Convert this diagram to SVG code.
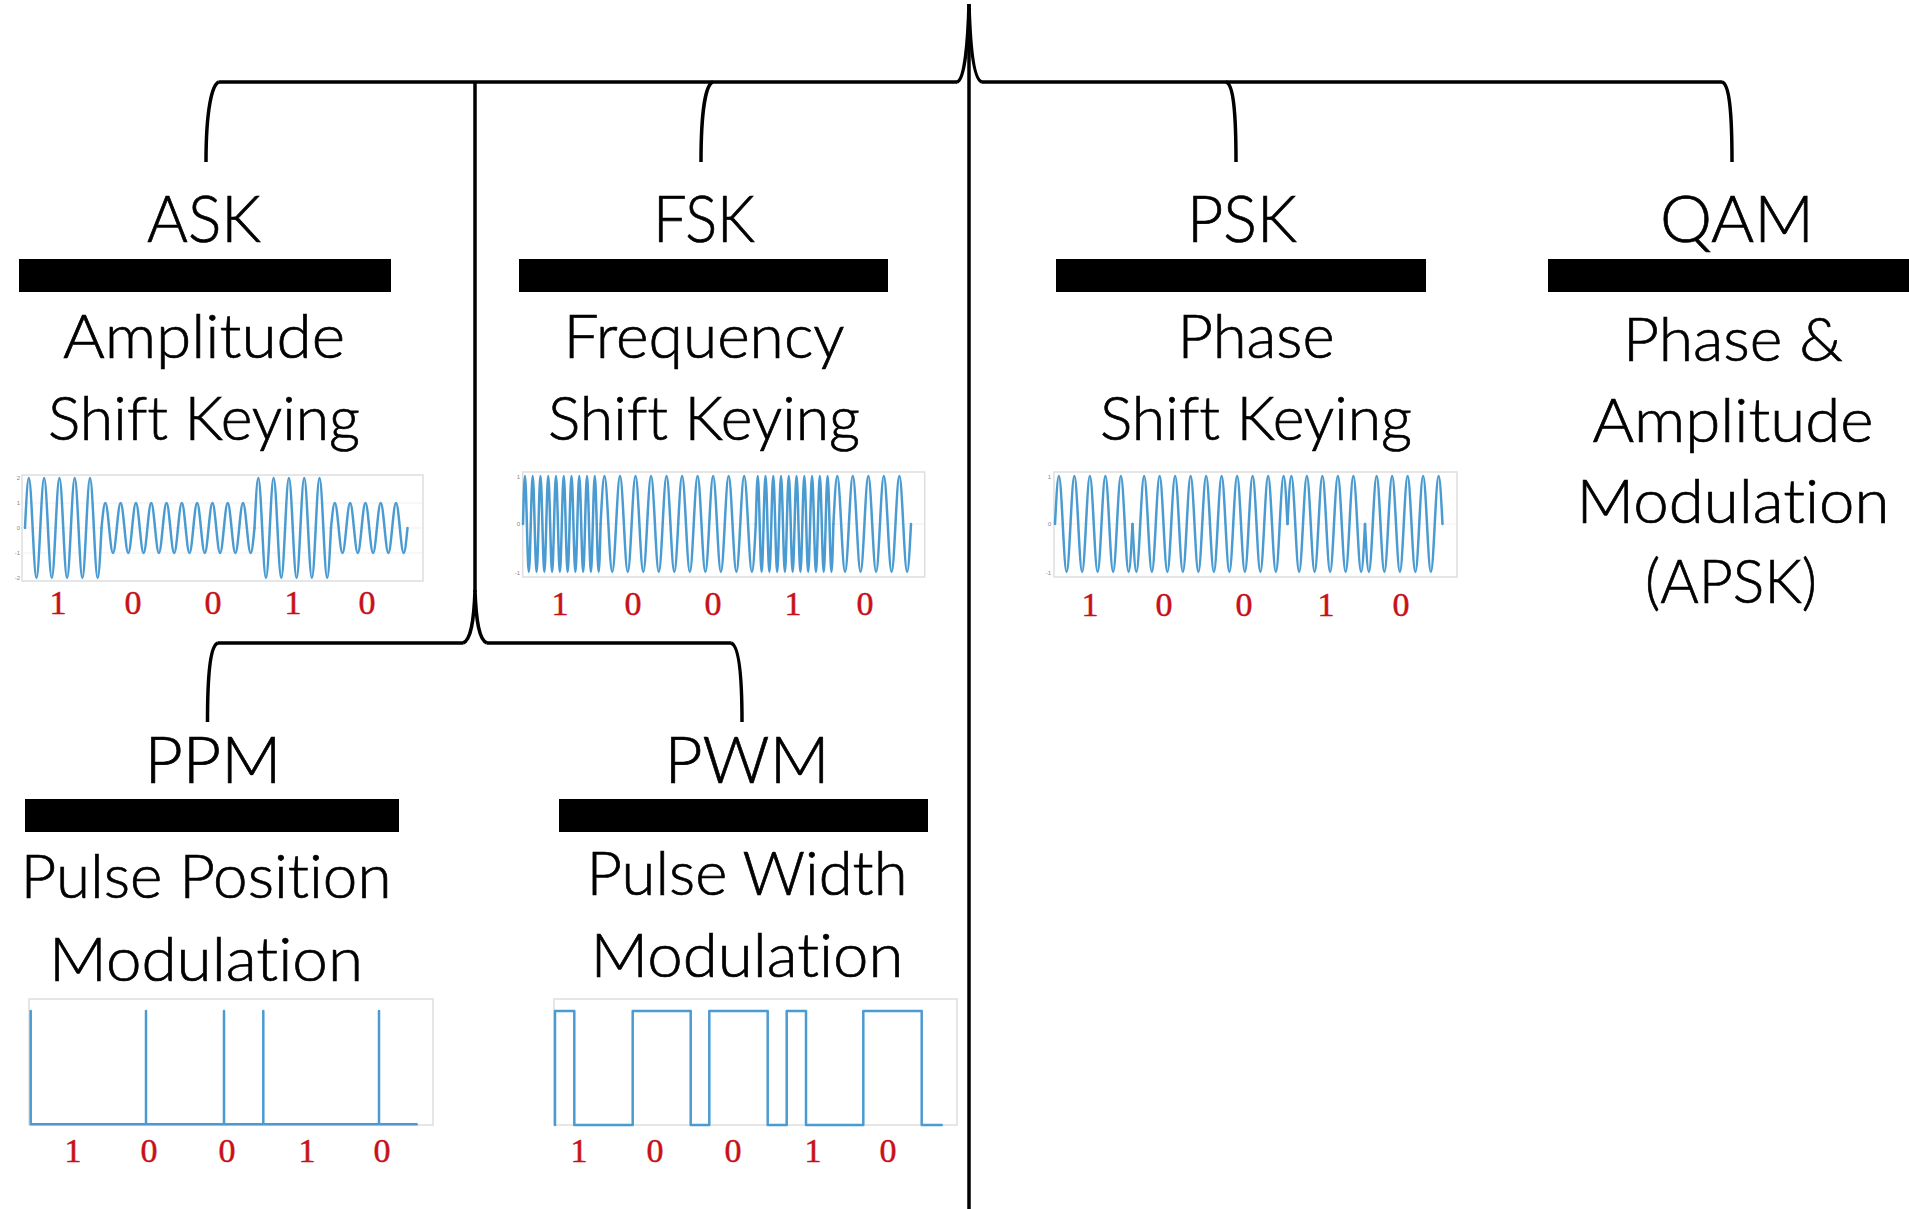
<svg xmlns="http://www.w3.org/2000/svg" width="1909" height="1209" viewBox="0 0 1909 1209">
<style>
.t{font-family:Lato,"Open Sans","Liberation Sans",sans-serif;font-weight:300;font-size:66px;text-anchor:middle;fill:#000;stroke:#000;stroke-width:0.7;font-variant-ligatures:none}
.d{font-family:Lato,"Open Sans","Liberation Sans",sans-serif;font-weight:300;font-size:62px;text-anchor:middle;fill:#000;stroke:#000;stroke-width:0.7;font-variant-ligatures:none}
.bit{font-family:"Liberation Serif",serif;font-size:34px;fill:#c8101a;stroke:#c8101a;stroke-width:0.5;text-anchor:middle}
.bar{fill:#000}
.box{fill:#fff;stroke:#dedede;stroke-width:1.5}
.grid{stroke:#efefef;stroke-width:1}
.wave{fill:none;stroke:#4a9bd1;stroke-width:2.5;stroke-linejoin:round;stroke-linecap:round}
.tick{font-family:"Liberation Sans",sans-serif;font-size:6px;fill:#888;text-anchor:end}
.conn{fill:none;stroke:#000;stroke-width:3.5}
</style>
<defs>
<path id="askHi" d="M0,0c3.25,-66.7 4.4,-66.7 7.65,0c3.25,66.7 4.4,66.7 7.65,0c3.25,-66.7 4.4,-66.7 7.65,0c3.25,66.7 4.4,66.7 7.65,0c3.25,-66.7 4.4,-66.7 7.65,0c3.25,66.7 4.4,66.7 7.65,0c3.25,-66.7 4.4,-66.7 7.65,0c3.25,66.7 4.4,66.7 7.65,0c3.25,-66.7 4.4,-66.7 7.65,0c3.25,66.7 4.4,66.7 7.65,0"/>
<path id="askLo" d="M0,0c3.25,-33.3 4.4,-33.3 7.65,0c3.25,33.3 4.4,33.3 7.65,0c3.25,-33.3 4.4,-33.3 7.65,0c3.25,33.3 4.4,33.3 7.65,0c3.25,-33.3 4.4,-33.3 7.65,0c3.25,33.3 4.4,33.3 7.65,0c3.25,-33.3 4.4,-33.3 7.65,0c3.25,33.3 4.4,33.3 7.65,0c3.25,-33.3 4.4,-33.3 7.65,0c3.25,33.3 4.4,33.3 7.65,0"/>
<path id="fHi" d="M0,0c1.65,-64 2.23,-64 3.88,0c1.65,64 2.23,64 3.88,0c1.65,-64 2.23,-64 3.88,0c1.65,64 2.23,64 3.88,0c1.65,-64 2.23,-64 3.88,0c1.65,64 2.23,64 3.88,0c1.65,-64 2.23,-64 3.88,0c1.65,64 2.23,64 3.88,0c1.65,-64 2.23,-64 3.88,0c1.65,64 2.23,64 3.88,0c1.65,-64 2.23,-64 3.88,0c1.65,64 2.23,64 3.88,0c1.65,-64 2.23,-64 3.88,0c1.65,64 2.23,64 3.88,0c1.65,-64 2.23,-64 3.88,0c1.65,64 2.23,64 3.88,0c1.65,-64 2.23,-64 3.88,0c1.65,64 2.23,64 3.88,0c1.65,-64 2.23,-64 3.88,0c1.65,64 2.23,64 3.88,0"/>
<path id="fLo" d="M0,0c3.29,-64 4.47,-64 7.76,0c3.29,64 4.47,64 7.76,0c3.29,-64 4.47,-64 7.76,0c3.29,64 4.47,64 7.76,0c3.29,-64 4.47,-64 7.76,0c3.29,64 4.47,64 7.76,0c3.29,-64 4.47,-64 7.76,0c3.29,64 4.47,64 7.76,0c3.29,-64 4.47,-64 7.76,0c3.29,64 4.47,64 7.76,0"/>
<path id="p1" d="M0,0c3.29,-64 4.46,-64 7.75,0c3.29,64 4.46,64 7.75,0c3.29,-64 4.46,-64 7.75,0c3.29,64 4.46,64 7.75,0c3.29,-64 4.46,-64 7.75,0c3.29,64 4.46,64 7.75,0c3.29,-64 4.46,-64 7.75,0c3.29,64 4.46,64 7.75,0c3.29,-64 4.46,-64 7.75,0c3.29,64 4.46,64 7.75,0"/>
<path id="p0" d="M0,0c3.29,64 4.46,64 7.75,0c3.29,-64 4.46,-64 7.75,0c3.29,64 4.46,64 7.75,0c3.29,-64 4.46,-64 7.75,0c3.29,64 4.46,64 7.75,0c3.29,-64 4.46,-64 7.75,0c3.29,64 4.46,64 7.75,0c3.29,-64 4.46,-64 7.75,0c3.29,64 4.46,64 7.75,0c3.29,-64 4.46,-64 7.75,0"/>
</defs>
<rect width="1909" height="1209" fill="#fff"/>

<g id="connectors">
<path class="conn" d="M969,4 V1209"/>
<path class="conn" d="M219,82 H957 M982,82 H1722"/>
<path class="conn" d="M957,82 C965,80 968,40 969,4 M982,82 C973,80 970,40 969,4"/>
<path class="conn" d="M219,82 C212,84 206,110 206,162"/>
<path class="conn" d="M713,82 C706,84 701,110 701,162"/>
<path class="conn" d="M1226,82 C1233,84 1236,110 1236,162"/>
<path class="conn" d="M1722,82 C1729,84 1732,110 1732,162"/>
<path class="conn" d="M475,82 V592"/>
<path class="conn" d="M463,643 C471,640 474,620 475,590 M487,643 C479,640 476,620 475,590"/>
<path class="conn" d="M218,643 H463 M487,643 H731"/>
<path class="conn" d="M218,643 C211,645 207.5,670 207.5,722"/>
<path class="conn" d="M731,643 C738,645 742,670 742,722"/>
</g>

<g id="ask">
<text class="t" x="204" y="242" textLength="114" lengthAdjust="spacingAndGlyphs">ASK</text>
<rect class="bar" x="19" y="259" width="372" height="33"/>
<text class="d" x="204" y="358" textLength="282" lengthAdjust="spacingAndGlyphs">Amplitude</text>
<text class="d" x="204" y="440" textLength="312" lengthAdjust="spacingAndGlyphs">Shift Keying</text>
<rect class="box" x="22" y="475" width="401" height="106"/>
<path class="grid" d="M23,503 H422 M23,528 H422 M23,553 H422"/>
<text class="tick" x="20" y="480">2</text>
<text class="tick" x="20" y="505">1</text>
<text class="tick" x="20" y="530">0</text>
<text class="tick" x="20" y="555">-1</text>
<text class="tick" x="20" y="580">-2</text>
<use class="wave" href="#askHi" x="25" y="528"/>
<use class="wave" href="#askLo" x="101.5" y="528"/>
<use class="wave" href="#askLo" x="178" y="528"/>
<use class="wave" href="#askHi" x="254.5" y="528"/>
<use class="wave" href="#askLo" x="331" y="528"/>
<text class="bit" x="58" y="614">1</text>
<text class="bit" x="133" y="614">0</text>
<text class="bit" x="213" y="614">0</text>
<text class="bit" x="293" y="614">1</text>
<text class="bit" x="367" y="614">0</text>
</g>

<g id="fsk">
<text class="t" x="704" y="242" textLength="102" lengthAdjust="spacingAndGlyphs">FSK</text>
<rect class="bar" x="519" y="259" width="369" height="33"/>
<text class="d" x="704" y="358" textLength="281" lengthAdjust="spacingAndGlyphs">Frequency</text>
<text class="d" x="704" y="440" textLength="312" lengthAdjust="spacingAndGlyphs">Shift Keying</text>
<rect class="box" x="522.7" y="472" width="402" height="105"/>
<path class="grid" d="M524,524 H924"/>
<text class="tick" x="520" y="479">1</text>
<text class="tick" x="520" y="526">0</text>
<text class="tick" x="520" y="575">-1</text>
<use class="wave" href="#fHi" x="523" y="524"/>
<use class="wave" href="#fLo" x="600.6" y="524"/>
<use class="wave" href="#fLo" x="678.2" y="524"/>
<use class="wave" href="#fHi" x="755.8" y="524"/>
<use class="wave" href="#fLo" x="833.4" y="524"/>
<text class="bit" x="560" y="615">1</text>
<text class="bit" x="633" y="615">0</text>
<text class="bit" x="713" y="615">0</text>
<text class="bit" x="793" y="615">1</text>
<text class="bit" x="865" y="615">0</text>
</g>

<g id="psk">
<text class="t" x="1242" y="242" textLength="110" lengthAdjust="spacingAndGlyphs">PSK</text>
<rect class="bar" x="1056" y="259" width="370" height="33"/>
<text class="d" x="1256" y="358" textLength="157" lengthAdjust="spacingAndGlyphs">Phase</text>
<text class="d" x="1256" y="440" textLength="312" lengthAdjust="spacingAndGlyphs">Shift Keying</text>
<rect class="box" x="1054" y="472" width="403" height="105"/>
<path class="grid" d="M1055,524 H1456"/>
<text class="tick" x="1051" y="479">1</text>
<text class="tick" x="1051" y="526">0</text>
<text class="tick" x="1051" y="575">-1</text>
<use class="wave" href="#p1" x="1055" y="524"/>
<use class="wave" href="#p0" x="1132.5" y="524"/>
<use class="wave" href="#p0" x="1210" y="524"/>
<use class="wave" href="#p1" x="1287.5" y="524"/>
<use class="wave" href="#p0" x="1365" y="524"/>
<text class="bit" x="1090" y="616">1</text>
<text class="bit" x="1164" y="616">0</text>
<text class="bit" x="1244" y="616">0</text>
<text class="bit" x="1326" y="616">1</text>
<text class="bit" x="1401" y="616">0</text>
</g>

<g id="qam">
<text class="t" x="1737" y="242" textLength="154" lengthAdjust="spacingAndGlyphs">QAM</text>
<rect class="bar" x="1548" y="259" width="361" height="33"/>
<text class="d" x="1733" y="361" textLength="220" lengthAdjust="spacingAndGlyphs">Phase &amp;</text>
<text class="d" x="1733" y="442" textLength="281" lengthAdjust="spacingAndGlyphs">Amplitude</text>
<text class="d" x="1733" y="523" textLength="313" lengthAdjust="spacingAndGlyphs">Modulation</text>
<text class="d" x="1731" y="603" textLength="172" lengthAdjust="spacingAndGlyphs">(APSK)</text>
</g>

<g id="ppm">
<text class="t" x="213" y="783" textLength="137" lengthAdjust="spacingAndGlyphs">PPM</text>
<rect class="bar" x="25" y="799" width="374" height="33"/>
<text class="d" x="206" y="898" textLength="371" lengthAdjust="spacingAndGlyphs">Pulse Position</text>
<text class="d" x="206" y="981" textLength="314" lengthAdjust="spacingAndGlyphs">Modulation</text>
<rect class="box" x="29" y="999" width="404" height="126"/>
<path class="wave" d="M30.7,1011 V1124.3 H416.7 M146,1011 V1124.3 M224,1011 V1124.3 M263.3,1011 V1124.3 M379,1011 V1124.3"/>
<text class="bit" x="73" y="1162">1</text>
<text class="bit" x="149" y="1162">0</text>
<text class="bit" x="227" y="1162">0</text>
<text class="bit" x="307" y="1162">1</text>
<text class="bit" x="382" y="1162">0</text>
</g>

<g id="pwm">
<text class="t" x="747" y="783" textLength="165" lengthAdjust="spacingAndGlyphs">PWM</text>
<rect class="bar" x="559" y="799" width="369" height="33"/>
<text class="d" x="747" y="895" textLength="321" lengthAdjust="spacingAndGlyphs">Pulse Width</text>
<text class="d" x="747" y="977" textLength="313" lengthAdjust="spacingAndGlyphs">Modulation</text>
<rect class="box" x="554" y="999" width="403" height="126"/>
<path class="wave" d="M555,1125 V1011 H574.3 V1125 H632.7 V1011 H690.7 V1125 H709.3 V1011 H767.7 V1125 H786.7 V1011 H806 V1125 H863.3 V1011 H921.7 V1125 H941.7"/>
<text class="bit" x="579" y="1162">1</text>
<text class="bit" x="655" y="1162">0</text>
<text class="bit" x="733" y="1162">0</text>
<text class="bit" x="813" y="1162">1</text>
<text class="bit" x="888" y="1162">0</text>
</g>
</svg>
